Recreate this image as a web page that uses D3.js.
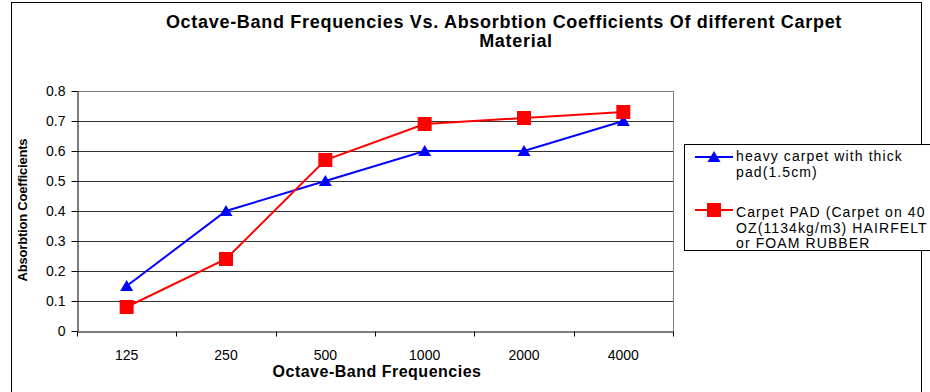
<!DOCTYPE html>
<html>
<head>
<meta charset="utf-8">
<script src="https://cdn.jsdelivr.net/npm/d3@7"></script>
<style>
  body { margin: 0; background: #fff; }
  svg { font-family: Arial, "Liberation Sans", sans-serif; }
</style>
</head>
<body>
<svg id="chart" width="930" height="392"></svg>
<script>
const frequencies = ["125", "250", "500", "1000", "2000", "4000"];
const heavyCarpet = [0.15, 0.40, 0.50, 0.60, 0.60, 0.70];
const carpetPad = [0.08, 0.24, 0.57, 0.69, 0.71, 0.73];
const yTicks = [0, 0.1, 0.2, 0.3, 0.4, 0.5, 0.6, 0.7, 0.8];

const series = [
  { name: ["heavy carpet with thick", "pad(1.5cm)"], values: heavyCarpet, color: "#0000ff", marker: "triangle" },
  { name: ["Carpet PAD (Carpet on 40", "OZ(1134kg/m3) HAIRFELT", "or FOAM RUBBER"], values: carpetPad, color: "#ff0000", marker: "square" }
];

const svg = d3.select("#chart");

const plot = { left: 77, right: 673, top: 91, bottom: 331 };

// outer chart frame
svg.append("rect")
  .attr("x", 11.5).attr("y", 2.5)
  .attr("width", 910).attr("height", 420)
  .attr("fill", "#fff")
  .attr("stroke", "#000")
  .attr("stroke-width", 1);

const x = d3.scaleBand()
  .domain(frequencies)
  .range([plot.left, plot.right]);

const y = d3.scaleLinear()
  .domain([0, 0.8])
  .range([plot.bottom, plot.top]);

// gridlines
svg.append("g")
  .selectAll("line")
  .data(yTicks.filter(d => d > 0))
  .enter()
  .append("line")
  .attr("x1", plot.left).attr("x2", plot.right)
  .attr("y1", d => Math.round(y(d)) + 0.5)
  .attr("y2", d => Math.round(y(d)) + 0.5)
  .attr("stroke", d => d === 0.8 ? "#808080" : "#333")
  .attr("stroke-width", 1);

// plot area right border
svg.append("line")
  .attr("x1", plot.right + 0.5).attr("x2", plot.right + 0.5)
  .attr("y1", plot.top).attr("y2", plot.bottom)
  .attr("stroke", "#808080");

// y axis
const yAxis = svg.append("g")
  .attr("transform", `translate(${plot.left + 0.5},0)`)
  .call(d3.axisLeft(y).tickValues(yTicks).tickSize(6).tickSizeOuter(0)
    .tickFormat(d => d === 0 ? "0" : d3.format(".1f")(d)));
yAxis.selectAll("text").style("font-size", "14px").attr("fill", "#000").attr("x", -12);
yAxis.selectAll("line").attr("stroke", "#000");
yAxis.select(".domain").attr("stroke", "#000");

// x axis with ticks at band edges
const xAxis = svg.append("g")
  .attr("transform", `translate(0,${plot.bottom + 0.5})`)
  .call(d3.axisBottom(x).tickSize(0).tickSizeOuter(0));
xAxis.selectAll("text").style("font-size", "14px").attr("fill", "#000")
  .attr("y", 0).attr("dy", 0).attr("transform", "translate(0,28)");
xAxis.select(".domain").attr("stroke", "#000");
xAxis.selectAll(".edge")
  .data(d3.range(frequencies.length + 1))
  .enter()
  .append("line")
  .attr("class", "edge")
  .attr("x1", i => Math.round(plot.left + i * x.bandwidth()) + 0.5)
  .attr("x2", i => Math.round(plot.left + i * x.bandwidth()) + 0.5)
  .attr("y1", 0).attr("y2", 5)
  .attr("stroke", "#000");

// lines and markers
const cx = i => x(frequencies[i]) + x.bandwidth() / 2;
const line = d3.line().x((d, i) => cx(i)).y(d => y(d));

function drawMarker(sel, type, color) {
  if (type === "triangle") {
    sel.append("path")
      .attr("d", "M0,-6 L6.5,5 L-6.5,5 Z")
      .attr("fill", color);
  } else {
    sel.append("rect")
      .attr("x", -7).attr("y", -7)
      .attr("width", 14).attr("height", 14)
      .attr("fill", color);
  }
}

series.forEach(s => {
  svg.append("path")
    .datum(s.values)
    .attr("d", line)
    .attr("fill", "none")
    .attr("stroke", s.color)
    .attr("stroke-width", 2);

  s.values.forEach((v, i) => {
    const m = svg.append("g").attr("transform", `translate(${cx(i)},${y(v)})`);
    drawMarker(m, s.marker, s.color);
  });
});

// title
const title = svg.append("text")
  .attr("text-anchor", "middle")
  .style("font-size", "18px")
  .style("font-weight", "bold")
  .style("letter-spacing", "0.7px");
title.append("tspan").attr("x", 504).attr("y", 28).text("Octave-Band Frequencies Vs. Absorbtion Coefficients Of different Carpet");
title.append("tspan").attr("x", 516).attr("y", 47).text("Material");

// axis titles
svg.append("text")
  .attr("x", 377).attr("y", 377)
  .attr("text-anchor", "middle")
  .style("font-size", "16px")
  .style("font-weight", "bold")
  .style("letter-spacing", "0.5px")
  .text("Octave-Band Frequencies");

svg.append("text")
  .attr("transform", "translate(27,210) rotate(-90)")
  .attr("text-anchor", "middle")
  .style("font-size", "13px")
  .style("font-weight", "bold")
  .style("letter-spacing", "-0.2px")
  .text("Absorbtion Coefficients");

// legend
const legend = svg.append("g");
legend.append("rect")
  .attr("x", 684.5).attr("y", 144.5)
  .attr("width", 260).attr("height", 106)
  .attr("fill", "#fff")
  .attr("stroke", "#000");

const legendRows = [157, 210];
const legendBaselines = [[4, 20], [7, 22.5, 38]];
series.forEach((s, k) => {
  const ly = legendRows[k];
  const item = legend.append("g").attr("transform", `translate(0,${ly})`);
  item.append("line")
    .attr("x1", 695).attr("x2", 733)
    .attr("y1", 0).attr("y2", 0)
    .attr("stroke", s.color).attr("stroke-width", 2);
  const m = item.append("g").attr("transform", "translate(714,0)");
  drawMarker(m, s.marker, s.color);
  const t = item.append("text")
    .style("font-size", "14px")
    .style("letter-spacing", "1.1px");
  s.name.forEach((n, j) => {
    t.append("tspan")
      .attr("x", 736)
      .attr("y", legendBaselines[k][j])
      .text(n);
  });
});
</script>
</body>
</html>
